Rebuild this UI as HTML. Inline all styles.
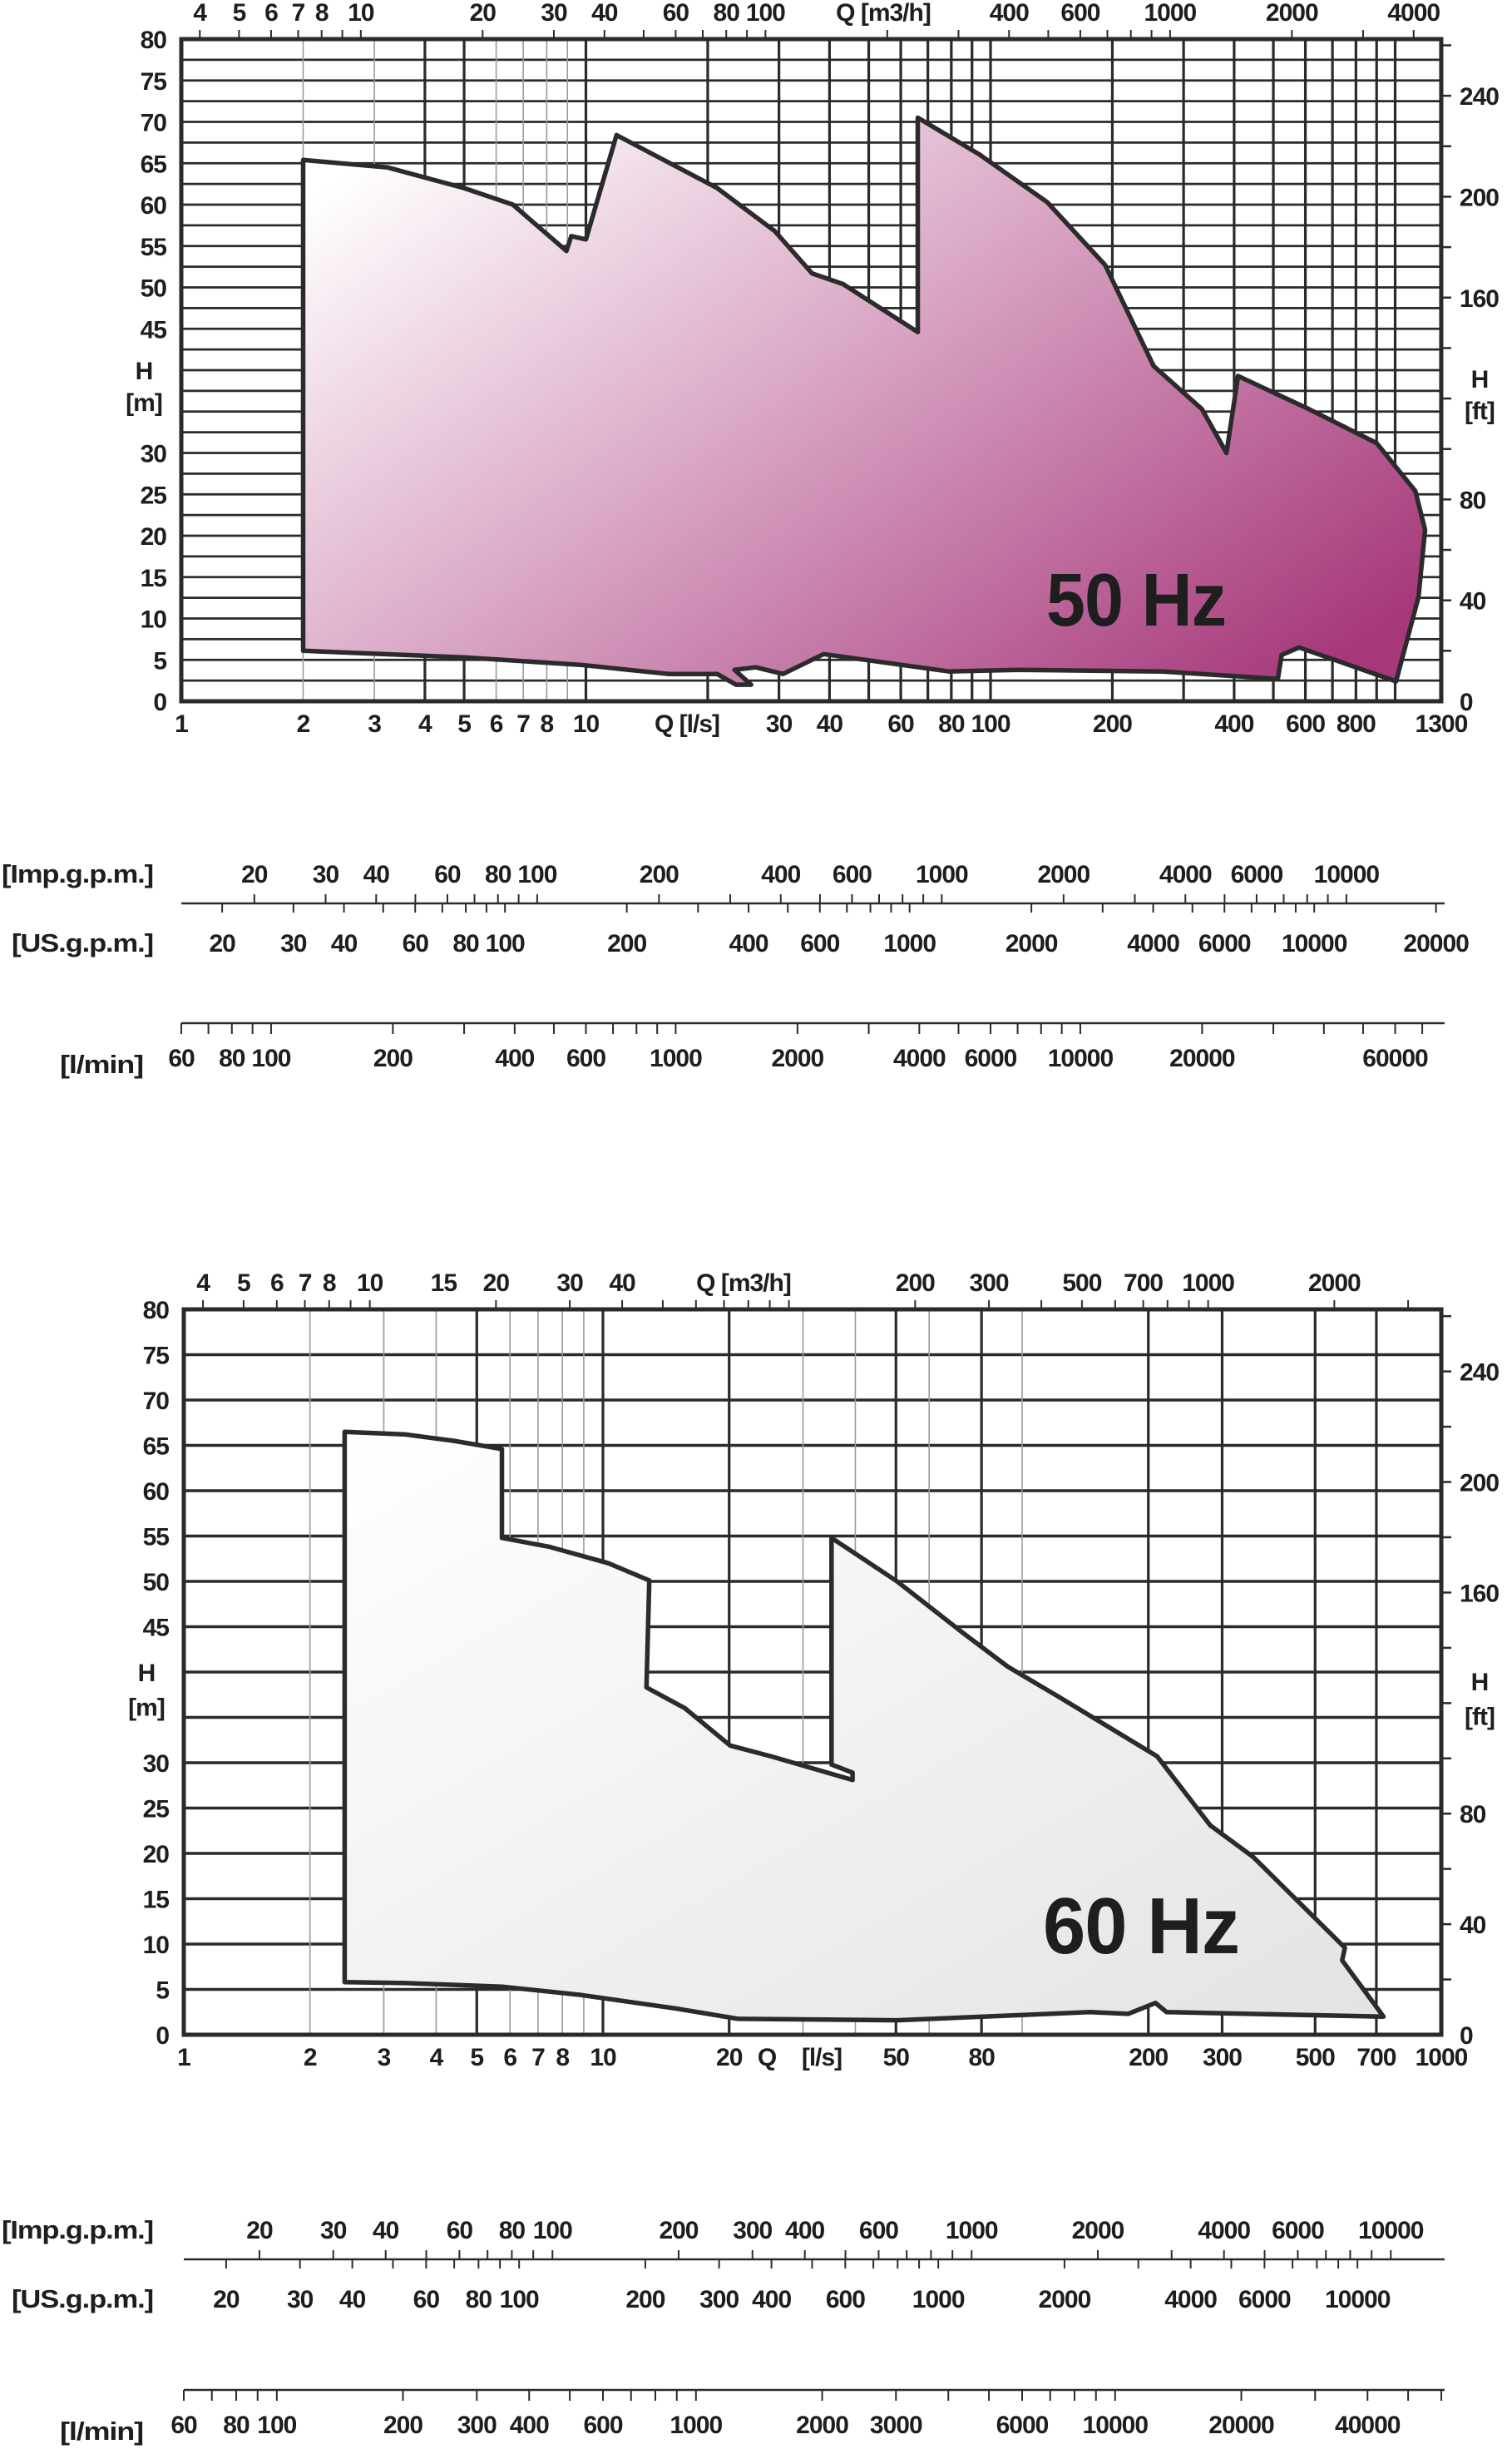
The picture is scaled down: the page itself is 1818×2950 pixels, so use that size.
<!DOCTYPE html>
<html><head><meta charset="utf-8"><title>Pump performance ranges 50 Hz / 60 Hz</title>
<style>
html,body{margin:0;padding:0;background:#fff;}
svg{display:block;font-family:"Liberation Sans",sans-serif;}
text{font-weight:bold;fill:#1e1e1e;}
</style></head>
<body>
<svg id="root" xmlns="http://www.w3.org/2000/svg" width="1818" height="2950" viewBox="0 0 1818 2950">
<defs>
<linearGradient id="g50" x1="0" y1="0.15" x2="1" y2="0.85">
<stop offset="0" stop-color="#ffffff"/>
<stop offset="0.45" stop-color="#d9a6c5"/>
<stop offset="1" stop-color="#a6387a"/>
</linearGradient>
<linearGradient id="g60" x1="0" y1="0" x2="1" y2="1">
<stop offset="0" stop-color="#ffffff"/>
<stop offset="1" stop-color="#e2e4e4"/>
</linearGradient>
</defs>
</svg>
<script>
// ---- 50 Hz envelope data (Q in l/s, H in m) ----
const q50 = [2,3.23,5.0,6.6,8.95,9.2,10,11.9,21.1,29.3,36.2,43.2,66.1,66.1,93.6,138,192,253,333,383,409,612,900,1122,1186,1142,1005,579,524,513,267,117,79,38.7,30.7,26.3,23.3,25.6,23.5,21.1,16.0,9.7,5.0,2];
const h50 = [65.4,64.5,62.0,60.0,54.4,56.2,55.8,68.4,62.0,56.8,51.7,50.4,44.6,70.5,66.1,60.3,52.7,40.5,35.3,30.0,39.3,35.3,31.2,25.4,20.7,12.6,2.4,6.5,5.6,2.7,3.6,3.8,3.6,5.7,3.3,4.1,3.8,2.0,2.0,3.3,3.3,4.4,5.3,6.1];
// ---- 60 Hz envelope data ----
const q60 = [2.42,3.38,4.40,5.74,5.74,7.47,10.3,12.9,12.7,15.7,20.1,25.2,39.4,39.4,35.1,35.1,50.3,72.8,92.4,124,210,281,356,589,580,728,221,208,179,145,50.3,21.0,14.9,8.8,5.74,3.38,2.42];
const h60 = [66.5,66.2,65.5,64.6,54.8,53.8,52.0,50.1,38.3,36.0,31.9,30.7,28.1,28.9,29.8,54.8,50.0,44.2,40.6,37.1,30.7,23.1,19.6,9.6,8.2,2.0,2.5,3.5,2.3,2.5,1.6,1.75,2.9,4.4,5.3,5.7,5.8];
// ---- tick label arrays ----
const lsLabels50 = [1,2,3,4,5,6,7,8,10,30,40,60,80,100,200,400,600,800,1300];
const m3hLabels50 = [4,5,6,7,8,10,20,30,40,60,80,100,400,600,1000,2000,4000];
const impLabels50 = [20,30,40,60,80,100,200,400,600,1000,2000,4000,6000,10000];
const usLabels50 = [20,30,40,60,80,100,200,400,600,1000,2000,4000,6000,10000,20000];
const lminLabels50 = [60,80,100,200,400,600,1000,2000,4000,6000,10000,20000,60000];
const lsLabels60 = [1,2,3,4,5,6,7,8,10,20,50,80,200,300,500,700,1000];
const m3hLabels60 = [4,5,6,7,8,10,15,20,30,40,200,300,500,700,1000,2000];
const impLabels60 = [20,30,40,60,80,100,200,300,400,600,1000,2000,4000,6000,10000];
const usLabels60 = [20,30,40,60,80,100,200,300,400,600,1000,2000,4000,6000,10000];
const lminLabels60 = [60,80,100,200,300,400,600,1000,2000,3000,6000,10000,20000,40000];
const hLabels = [0,5,10,15,20,25,30,45,50,55,60,65,70,75,80];
const ftLabels = [0,40,80,160,200,240];

const NS = "http://www.w3.org/2000/svg";
const root = document.getElementById('root');
function el(tag, parent){ const e=document.createElementNS(NS,tag); parent.appendChild(e); return e; }
function txt(parent, s, x, y, size, anchor){
  const t = el('text', parent);
  t.setAttribute('x', x); t.setAttribute('y', y);
  t.setAttribute('font-size', size);
  t.setAttribute('text-anchor', anchor||'middle');
  t.setAttribute('letter-spacing', '-1');
  t.textContent = s; return t;
}
function line(parent,x1,y1,x2,y2,w,c){
  const l = el('line', parent);
  l.setAttribute('x1',x1); l.setAttribute('y1',y1); l.setAttribute('x2',x2); l.setAttribute('y2',y2);
  l.setAttribute('stroke', c||'#2a2a2a'); l.setAttribute('stroke-width', w); return l;
}
function logTicks(lo, hi){
  const out=[]; for(let d=1; d<=1e6; d*=10){ for(let k=1;k<10;k++){ const v=k*d; if(v>=lo-1e-9 && v<=hi+1e-9) out.push(v);} } return out;
}

function drawPanel(cfg){
  const g = el('g', root);
  
  
  const X = q => cfg.x0 + Math.log10(q)*cfg.dec;
  const Y = h => cfg.yb - h*cfg.ppm;
  const right = X(cfg.qmax);

  const grid = el('g', g);
  
  
  for(let h=cfg.hstep; h<80-0.01; h+=cfg.hstep){
    const l = line(grid, cfg.x0, Y(h), right, Y(h), cfg.hw, '#2a2a2a');
    
    
  }
  const vlines = cfg.vlines || logTicks(2, cfg.qmax*0.999);
  vlines.forEach(q=>{
    const thin = cfg.thin.indexOf(q) >= 0;
    const l = line(grid, X(q), Y(80), X(q), cfg.yb, thin?1.6:3.2, thin?'#9a9a9a':'#2a2a2a');
    
    
  });

  const pts = cfg.q.map((q,i)=> X(q).toFixed(1)+','+Y(cfg.h[i]).toFixed(1)).join(' ');
  const poly = el('polygon', g);
  poly.setAttribute('points', pts);
  poly.setAttribute('fill', cfg.fill);
  poly.setAttribute('stroke', '#2b2b2b');
  poly.setAttribute('stroke-width', 5.5);
  poly.setAttribute('stroke-linejoin', 'round');
  
  

  const fr = el('rect', g);
  fr.setAttribute('x', cfg.x0); fr.setAttribute('y', Y(80));
  fr.setAttribute('width', right-cfg.x0); fr.setAttribute('height', cfg.yb-Y(80));
  fr.setAttribute('fill','none'); fr.setAttribute('stroke','#2a2a2a'); fr.setAttribute('stroke-width',5);
  
  

  logTicks(4, cfg.qmax*3.6).forEach(v=>{
    const x = X(v/3.6);
    const l = line(g, x, Y(80)-11, x, Y(80), 2, '#2a2a2a');
    
    
  });
  cfg.m3h.forEach(v=>{
    const t = txt(g, String(v), X(v/3.6), Y(80)-22, 30);
    
    
  });
  const qm = txt(g, cfg.m3hTitle, cfg.m3hTitleX, Y(80)-22, 30);
  
  

  cfg.ls.forEach(v=>{
    const t = txt(g, String(v), X(v), cfg.yb+37, 30);
    
    
  });
  cfg.lsTitles.forEach(p=>{
    const t = txt(g, p[0], p[1], cfg.yb+37, 30);
    
    
  });

  hLabels.forEach(h=>{
    const t = txt(g, String(h), cfg.x0-18, Y(h)+11, 30, 'end');
    
    
  });
  const hl = txt(g, 'H', cfg.x0-45, Y(40)+11, 30);
  
  
  const hm = txt(g, '[m]', cfg.x0-45, Y(36.2)+11, 30);
  
  

  for(let ft=20; ft*0.3048<80; ft+=20){
    const y = Y(ft*0.3048);
    const l = line(g, right, y, right+12, y, 2.5, '#2a2a2a');
    
    
  }
  ftLabels.forEach(ft=>{
    const t = txt(g, String(ft), right+22, Y(ft*0.3048)+11, 30, 'start');
    
    
  });
  const fh = txt(g, 'H', right+46, Y(cfg.ftH)+11, 30);
  
  
  const fu = txt(g, '[ft]', right+46, Y(cfg.ftH-3.8)+11, 30);
  
  

  const hz = txt(g, cfg.hz, cfg.hzX, cfg.hzY, cfg.hzSize);
  hz.setAttribute('textLength', cfg.hzLen);
  hz.setAttribute('lengthAdjust', 'spacingAndGlyphs');
  hz.setAttribute('fill', '#2b2b2b');
  
  

  const gy = cfg.gpmY;
  const gl = line(g, cfg.x0, gy, right+4, gy, 2.5, '#2a2a2a');
  
  
  logTicks(20, cfg.qmax*13.198).forEach(v=>{
    const l = line(g, X(v/13.198), gy-11, X(v/13.198), gy, 2, '#2a2a2a');
    
    
  });
  logTicks(20, cfg.qmax*15.85).forEach(v=>{
    const l = line(g, X(v/15.85), gy, X(v/15.85), gy+11, 2, '#2a2a2a');
    
    
  });
  cfg.imp.forEach(v=>{
    const t = txt(g, String(v), X(v/13.198), gy-25, 30);
    
    
  });
  cfg.us.forEach(v=>{
    const t = txt(g, String(v), X(v/15.85), gy+58, 30);
    
    
  });
  const it = txt(g, '[Imp.g.p.m.]', 2, gy-25, 31, 'start');
  it.setAttribute('textLength', 182);
  it.setAttribute('lengthAdjust', 'spacingAndGlyphs');
  
  
  const ut = txt(g, '[US.g.p.m.]', 14, gy+58, 31, 'start');
  ut.setAttribute('textLength', 170);
  ut.setAttribute('lengthAdjust', 'spacingAndGlyphs');
  
  

  const ly = cfg.lminY;
  const ll = line(g, cfg.x0, ly, right+4, ly, 2.5, '#2a2a2a');
  
  
  logTicks(60, cfg.qmax*60).forEach(v=>{
    const l = line(g, X(v/60), ly, X(v/60), ly+13, 2, '#2a2a2a');
    
    
  });
  cfg.lmin.forEach(v=>{
    const t = txt(g, String(v), X(v/60), ly+52, 30);
    
    
  });
  const lt = txt(g, '[l/min]', 72, ly+60, 31, 'start');
  lt.setAttribute('textLength', 100);
  lt.setAttribute('lengthAdjust', 'spacingAndGlyphs');
  
  
}

drawPanel({name:'chart-50hz', envName:'envelope-50hz', x0:218, dec:486.5, yb:843, ppm:9.95, qmax:1300,
  hstep:2.5, hw:2.8, thin:[2,3,6,7,8,9], q:q50, h:h50, fill:'url(#g50)',
  m3h:m3hLabels50, m3hTitle:'Q [m3/h]', m3hTitleX:1062,
  ls:lsLabels50, lsTitles:[['Q [l/s]',826]], ftH:39, hz:'50 Hz', hzX:1366, hzY:752, hzSize:90, hzLen:216,
  imp:impLabels50, us:usLabels50, lmin:lminLabels50, gpmY:1086, lminY:1230});

drawPanel({name:'chart-60hz', envName:'envelope-60hz', x0:221, dec:504, yb:2446, ppm:10.9, qmax:1000,
  hstep:5, hw:3.6, thin:[2,3,4,6,7,8,9,30,40,60,100],
  vlines:[2,3,4,5,6,7,8,9,10,20,30,40,50,60,80,100,200,300,500,700],
  q:q60, h:h60, fill:'url(#g60)',
  m3h:m3hLabels60, m3hTitle:'Q [m3/h]', m3hTitleX:894,
  ls:lsLabels60, lsTitles:[['Q',922],['[l/s]',988]], ftH:39, hz:'60 Hz', hzX:1372, hzY:2348, hzSize:96, hzLen:236,
  imp:impLabels60, us:usLabels60, lmin:lminLabels60, gpmY:2716, lminY:2873});
</script>
</body></html>
